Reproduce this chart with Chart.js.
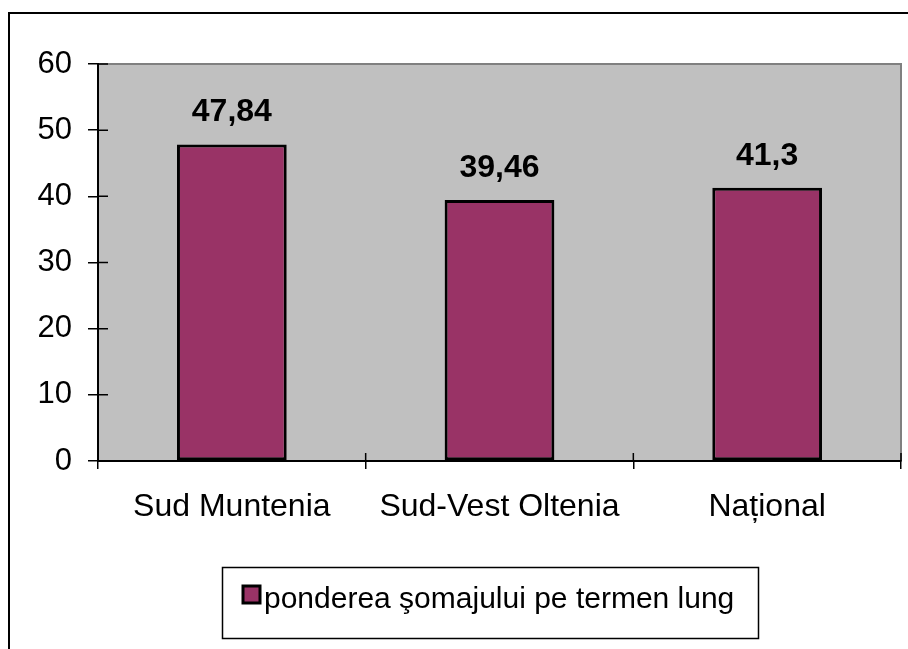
<!DOCTYPE html>
<html>
<head>
<meta charset="utf-8">
<script src="https://cdn.jsdelivr.net/npm/chart.js@4/dist/chart.umd.min.js"></script>
<style>
  html, body { margin: 0; padding: 0; background: #fff; }
  canvas { display: block; }
</style>
</head>
<body>
<canvas id="chart" width="908" height="649"></canvas>
<script>
// --- DATE ---
const categories = ['Sud Muntenia', 'Sud-Vest Oltenia', 'Național'];
const seriesLabel = 'ponderea şomajului pe termen lung';
const seriesValues = [47.84, 39.46, 41.3];
const yTicks = [0, 10, 20, 30, 40, 50, 60];

const FONT = "'Liberation Sans', Arial, sans-serif";
const BAR_COLOR = '#993366';
const PLOT_BG = '#c0c0c0';

// fundal, cadru exterior si zona graficului
const backgroundPlugin = {
    id: 'background',
    beforeDraw(chart) {
        const { ctx, chartArea: a } = chart;
        ctx.save();
        ctx.fillStyle = '#fff';
        ctx.fillRect(0, 0, chart.width, chart.height);
        ctx.strokeStyle = '#000';
        ctx.lineWidth = 2;
        ctx.strokeRect(9, 13, chart.width + 20, chart.height + 20);
        ctx.fillStyle = PLOT_BG;
        ctx.fillRect(a.left, a.top, a.right - a.left, a.bottom - a.top);
        ctx.strokeStyle = '#808080';
        ctx.lineWidth = 2;
        ctx.strokeRect(a.left, a.top, a.right - a.left, a.bottom - a.top);
        ctx.restore();
    }
};

// gradatii care traverseaza axa (partea din interior)
const innerTicksPlugin = {
    id: 'innerTicks',
    afterDraw(chart) {
        const { ctx, chartArea: a } = chart;
        const xs = chart.scales.x;
        const ys = chart.scales.y;
        ctx.save();
        ctx.strokeStyle = '#000';
        ctx.lineWidth = 1.5;
        ctx.beginPath();
        ys.ticks.forEach((t, i) => {
            const y = ys.getPixelForTick(i);
            ctx.moveTo(a.left, y);
            ctx.lineTo(a.left + 10, y);
        });
        for (let i = 0; i <= categories.length; i++) {
            const x = xs.getPixelForValue(i - 0.5);
            ctx.moveTo(x, a.bottom);
            ctx.lineTo(x, a.bottom - 8);
        }
        ctx.stroke();
        ctx.restore();
    }
};

// etichete de valoare deasupra barelor
const valueLabelsPlugin = {
    id: 'valueLabels',
    afterDatasetsDraw(chart) {
        const { ctx } = chart;
        const meta = chart.getDatasetMeta(0);
        ctx.save();
        ctx.font = 'bold 32px ' + FONT;
        ctx.fillStyle = '#000';
        ctx.textAlign = 'center';
        ctx.textBaseline = 'alphabetic';
        meta.data.forEach((bar, i) => {
            const txt = String(chart.data.datasets[0].data[i]).replace('.', ',');
            ctx.fillText(txt, bar.x, bar.y - 23);
        });
        ctx.restore();
    }
};

// legenda in caseta
const legendBoxPlugin = {
    id: 'legendBox',
    afterDraw(chart) {
        const { ctx } = chart;
        const ds = chart.data.datasets[0];
        ctx.save();
        ctx.strokeStyle = '#000';
        ctx.lineWidth = 1.5;
        ctx.strokeRect(222.5, 567.5, 536, 71);
        ctx.fillStyle = ds.backgroundColor;
        ctx.fillRect(243, 586, 17, 17);
        ctx.lineWidth = 3;
        ctx.strokeRect(243, 586, 17, 17);
        ctx.fillStyle = '#000';
        ctx.font = '30px ' + FONT;
        ctx.textAlign = 'left';
        ctx.textBaseline = 'alphabetic';
        ctx.fillText(ds.label, 264, 608);
        ctx.restore();
    }
};

new Chart(document.getElementById('chart'), {
    type: 'bar',
    data: {
        labels: categories,
        datasets: [{
            label: seriesLabel,
            data: seriesValues,
            backgroundColor: BAR_COLOR,
            borderColor: '#000',
            borderWidth: 3,
            borderSkipped: false,
            barPercentage: 0.41,
            categoryPercentage: 1
        }]
    },
    options: {
        responsive: false,
        animation: false,
        layout: { padding: { top: 64, right: 7, left: 0, bottom: 0 } },
        scales: {
            x: {
                afterFit: (s) => { s.height = 188; },
                grid: { offset: true, drawOnChartArea: false, tickLength: 8, color: '#000', lineWidth: 1.5 },
                border: { color: '#000', width: 2 },
                ticks: { color: '#000', font: { family: FONT, size: 32 }, padding: 19, maxRotation: 0 }
            },
            y: {
                min: 0,
                max: 60,
                afterFit: (s) => { s.width = 98; },
                afterBuildTicks: (s) => { s.ticks = yTicks.map(v => ({ value: v })); },
                grid: { drawOnChartArea: false, tickLength: 10, color: '#000', lineWidth: 1.5 },
                border: { color: '#000', width: 2 },
                ticks: { color: '#000', font: { family: FONT, size: 31 }, padding: 16 }
            }
        },
        plugins: {
            legend: { display: false },
            tooltip: { enabled: false }
        }
    },
    plugins: [backgroundPlugin, innerTicksPlugin, valueLabelsPlugin, legendBoxPlugin]
});
</script>
</body>
</html>
